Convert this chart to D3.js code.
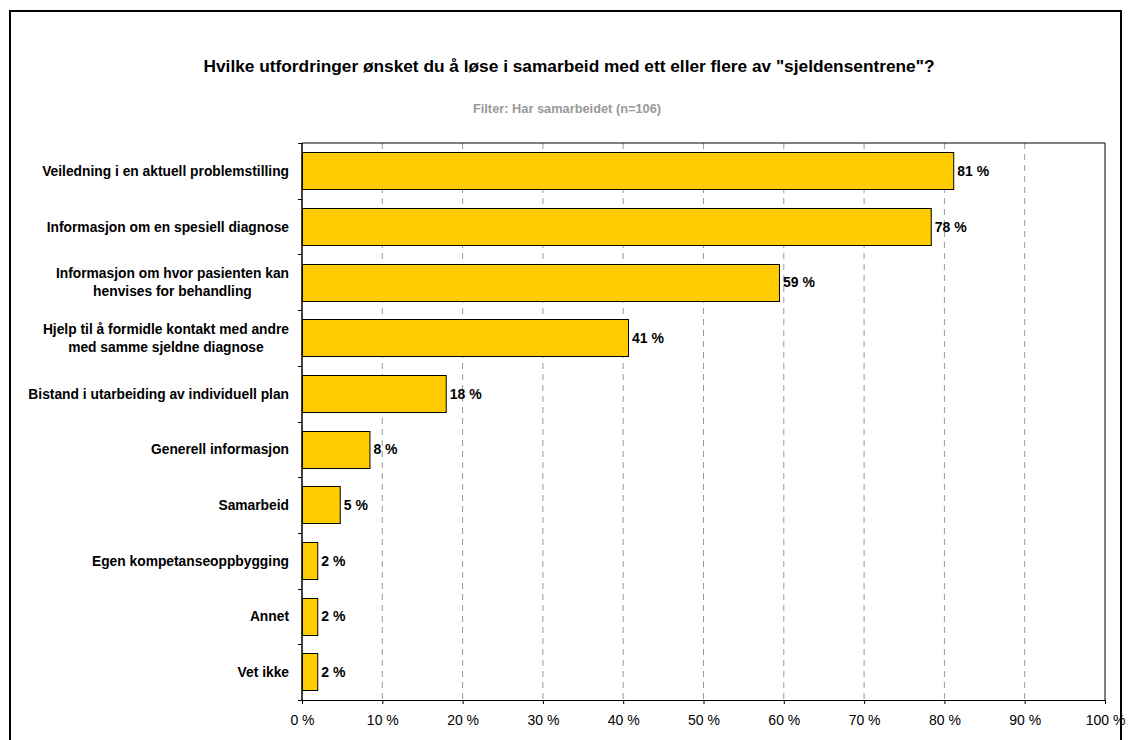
<!DOCTYPE html>
<html>
<head>
<meta charset="utf-8">
<script src="https://cdn.jsdelivr.net/npm/d3@7"></script>
<style>
  html, body { margin: 0; padding: 0; background: #fff; }
  svg { display: block; font-family: "Liberation Sans", Arial, sans-serif; }
</style>
</head>
<body>
<svg id="chart" width="1132" height="740"></svg>
<script>
// Answer categories (top to bottom), each line of a label as its own entry
const categories = [
  ["Veiledning i en aktuell problemstilling"],
  ["Informasjon om en spesiell diagnose"],
  ["Informasjon om hvor pasienten kan", "henvises for behandling"],
  ["Hjelp til å formidle kontakt med andre", "med samme sjeldne diagnose"],
  ["Bistand i utarbeiding av individuell plan"],
  ["Generell informasjon"],
  ["Samarbeid"],
  ["Egen kompetanseoppbygging"],
  ["Annet"],
  ["Vet ikke"]
];
// Share of respondents (percent)
const values = [81.1, 78.3, 59.4, 40.6, 17.9, 8.4, 4.7, 1.9, 1.9, 1.9];
const xTicks = [0, 10, 20, 30, 40, 50, 60, 70, 80, 90, 100];

const titleText = "Hvilke utfordringer ønsket du å løse i samarbeid med ett eller flere av \"sjeldensentrene\"?";
const subtitleText = "Filter: Har samarbeidet (n=106)";

const svg = d3.select("#chart");
const plot = { left: 302, right: 1105, top: 143, bottom: 700 };

// outer frame (runs past the bottom edge)
svg.append("rect")
  .attr("x", 10).attr("y", 11).attr("width", 1111).attr("height", 760)
  .attr("fill", "none").attr("stroke", "#000").attr("stroke-width", 2);

svg.append("text")
  .attr("x", 569).attr("y", 72)
  .attr("text-anchor", "middle")
  .attr("font-size", 17.3).attr("font-weight", "bold").attr("fill", "#000")
  .text(titleText);

svg.append("text")
  .attr("x", 567).attr("y", 113)
  .attr("text-anchor", "middle")
  .attr("font-size", 12.8).attr("font-weight", "bold").attr("fill", "#999")
  .text(subtitleText);

const x = d3.scaleLinear().domain([0, 100]).range([plot.left, plot.right]);
const y = d3.scaleBand()
  .domain(d3.range(categories.length))
  .range([plot.top, plot.bottom])
  .paddingInner(0.33).paddingOuter(0.165);

// dashed vertical gridlines
svg.append("g")
  .selectAll("line")
  .data(xTicks.filter(t => t > 0 && t < 100))
  .join("line")
  .attr("x1", d => x(d)).attr("x2", d => x(d))
  .attr("y1", plot.top).attr("y2", plot.bottom)
  .attr("stroke", "#999").attr("stroke-width", 1)
  .attr("stroke-dasharray", "6,5");

// plot frame: top and right edges
svg.append("path")
  .attr("d", `M${plot.left},${plot.top}H${plot.right}V${plot.bottom}`)
  .attr("fill", "none").attr("stroke", "#000").attr("stroke-width", 1);

// bars
svg.append("g")
  .selectAll("rect")
  .data(values)
  .join("rect")
  .attr("x", x(0) + 0.5)
  .attr("y", (d, i) => Math.round(y(i)) + 0.5)
  .attr("width", d => x(d) - x(0))
  .attr("height", Math.round(y.bandwidth()))
  .attr("fill", "#FFCC00")
  .attr("stroke", "#000").attr("stroke-width", 1);

// value labels
svg.append("g")
  .selectAll("text")
  .data(values)
  .join("text")
  .attr("x", d => x(d) + 4)
  .attr("y", (d, i) => y(i) + y.bandwidth() / 2 + 5)
  .attr("font-size", 14).attr("font-weight", "bold").attr("fill", "#000")
  .text(d => Math.round(d) + " %");

// bottom axis
const xAxis = svg.append("g")
  .attr("transform", `translate(0,${plot.bottom})`)
  .call(d3.axisBottom(x).tickValues(xTicks).tickSize(4).tickSizeOuter(0).tickFormat(d => d + " %"));
xAxis.select(".domain").attr("stroke", "#000");
xAxis.selectAll(".tick line").attr("stroke", "#000");
xAxis.selectAll(".tick text")
  .attr("font-family", "Liberation Sans, Arial, sans-serif")
  .attr("font-size", 14).attr("fill", "#000")
  .attr("y", 25).attr("dy", 0);

// left axis line with ticks on category boundaries
const boundaries = d3.range(categories.length + 1).map(i => plot.top + i * (plot.bottom - plot.top) / categories.length);
svg.append("line")
  .attr("x1", plot.left).attr("x2", plot.left)
  .attr("y1", plot.top).attr("y2", plot.bottom)
  .attr("stroke", "#000").attr("stroke-width", 1.5);
svg.append("g")
  .selectAll("line")
  .data(boundaries)
  .join("line")
  .attr("x1", plot.left - 4).attr("x2", plot.left)
  .attr("y1", d => Math.round(d) + 0.5).attr("y2", d => Math.round(d) + 0.5)
  .attr("stroke", "#000");

// category labels: block right-aligned, lines centred within the block
const labelRight = 289;
const labels = svg.append("g");
categories.forEach((lines, i) => {
  const cy = y(i) + y.bandwidth() / 2;
  const g = labels.append("g");
  const lh = 18;
  const texts = lines.map((ln, k) =>
    g.append("text")
      .attr("font-size", 13.8).attr("font-weight", "bold").attr("fill", "#000")
      .attr("text-anchor", "middle")
      .attr("y", cy + 5 + (k - (lines.length - 1) / 2) * lh)
      .text(ln));
  const maxW = d3.max(texts, t => t.node().getComputedTextLength());
  texts.forEach(t => t.attr("x", labelRight - maxW / 2));
});
</script>
</body>
</html>
